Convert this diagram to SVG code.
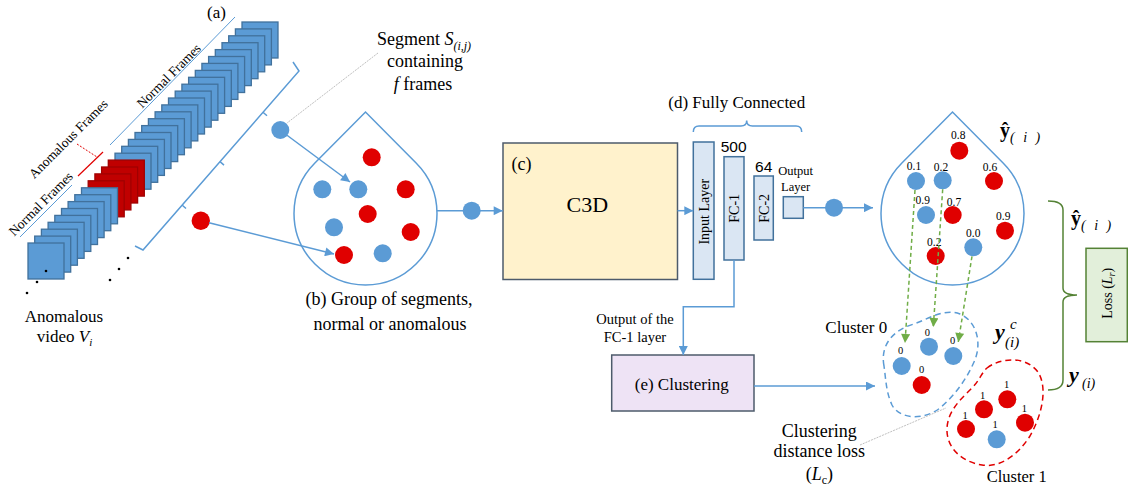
<svg xmlns="http://www.w3.org/2000/svg" width="1128" height="488" viewBox="0 0 1128 488">
<defs>
<style>
.t{font-family:"Liberation Serif","Times New Roman",serif;fill:#000}
.s{font-family:"Liberation Sans",Arial,sans-serif;fill:#000}
.fr{fill:#5B9BD5;stroke:#41719C;stroke-width:1.3}
.fa{fill:#C00000;stroke:#A00000;stroke-width:1.3}
.bc{fill:#5B9BD5}
.rc{fill:#E00000}
.ln{stroke:#5B9BD5;stroke-width:1.5;fill:none}
.gd{stroke:#70AD47;stroke-width:1.5;fill:none;stroke-dasharray:4 3}
.lay{fill:#DAE6F3;stroke:#41719C;stroke-width:1.5}
.dot{fill:#000}
</style>
<marker id="ab" viewBox="0 0 10 10" refX="10" refY="5" markerWidth="11" markerHeight="9" markerUnits="userSpaceOnUse" orient="auto"><path d="M0,0 L10,5 L0,10 z" fill="#5B9BD5"/></marker>
<marker id="ag" viewBox="0 0 10 10" refX="10" refY="5" markerWidth="10" markerHeight="9" markerUnits="userSpaceOnUse" orient="auto"><path d="M0,0 L10,5 L0,10 z" fill="#70AD47"/></marker>
</defs>
<rect width="1128" height="488" fill="#fff"/>

<g id="video-stack">
<rect class="fr" x="242.0" y="22.0" width="36" height="36"/>
<rect class="fr" x="235.4" y="28.9" width="36" height="36"/>
<rect class="fr" x="228.7" y="35.8" width="36" height="36"/>
<rect class="fr" x="222.0" y="42.7" width="36" height="36"/>
<rect class="fr" x="215.3" y="49.6" width="36" height="36"/>
<rect class="fr" x="208.6" y="56.5" width="36" height="36"/>
<rect class="fr" x="201.9" y="63.4" width="36" height="36"/>
<rect class="fr" x="195.3" y="70.4" width="36" height="36"/>
<rect class="fr" x="188.6" y="77.3" width="36" height="36"/>
<rect class="fr" x="181.9" y="84.2" width="36" height="36"/>
<rect class="fr" x="175.2" y="91.1" width="36" height="36"/>
<rect class="fr" x="168.5" y="98.0" width="36" height="36"/>
<rect class="fr" x="161.8" y="104.9" width="36" height="36"/>
<rect class="fr" x="155.1" y="111.8" width="36" height="36"/>
<rect class="fr" x="148.4" y="118.7" width="36" height="36"/>
<rect class="fr" x="141.7" y="125.6" width="36" height="36"/>
<rect class="fr" x="135.0" y="132.5" width="36" height="36"/>
<rect class="fr" x="128.4" y="139.4" width="36" height="36"/>
<rect class="fr" x="121.7" y="146.3" width="36" height="36"/>
<rect class="fr" x="115.0" y="153.2" width="36" height="36"/>
<rect class="fa" x="108.3" y="160.1" width="36" height="36"/>
<rect class="fa" x="101.6" y="167.0" width="36" height="36"/>
<rect class="fa" x="94.9" y="173.9" width="36" height="36"/>
<rect class="fa" x="88.2" y="180.8" width="36" height="36"/>
<rect class="fr" x="81.5" y="187.8" width="36" height="36"/>
<rect class="fr" x="74.8" y="194.7" width="36" height="36"/>
<rect class="fr" x="68.1" y="201.6" width="36" height="36"/>
<rect class="fr" x="61.5" y="208.5" width="36" height="36"/>
<rect class="fr" x="54.8" y="215.4" width="36" height="36"/>
<rect class="fr" x="48.1" y="222.3" width="36" height="36"/>
<rect class="fr" x="41.4" y="229.2" width="36" height="36"/>
<rect class="fr" x="34.7" y="236.1" width="36" height="36"/>
<rect class="fr" x="28.0" y="243.0" width="36" height="36"/>
<circle class="dot" cx="46" cy="271" r="1.3"/>
<circle class="dot" cx="37" cy="282" r="1.3"/>
<circle class="dot" cx="27" cy="293" r="1.3"/>
<circle class="dot" cx="128" cy="258" r="1.3"/>
<circle class="dot" cx="119" cy="269" r="1.3"/>
<circle class="dot" cx="110" cy="280" r="1.3"/>
<line x1="110" y1="145" x2="235" y2="17" stroke="#5B9BD5" stroke-width="1"/>
<line x1="20" y1="237" x2="72" y2="185" stroke="#5B9BD5" stroke-width="1"/>
<line x1="78" y1="176" x2="103" y2="152" stroke="#E00000" stroke-width="1.2"/>
<line x1="77" y1="144" x2="97" y2="157" stroke="#E00000" stroke-width="1" stroke-dasharray="2 1.5"/>
<text class="t" font-size="13.5" text-anchor="middle" transform="translate(172,79) rotate(-45)">Normal Frames</text>
<text class="t" font-size="13.5" text-anchor="middle" transform="translate(71.5,142) rotate(-45)">Anomalous Frames</text>
<text class="t" font-size="13.5" text-anchor="middle" transform="translate(44,207) rotate(-45)">Normal Frames</text>
<text class="t" font-size="17" x="207" y="18">(a)</text>
<text class="t" font-size="17" text-anchor="middle" x="64" y="322">Anomalous</text>
<text class="t" font-size="17" text-anchor="middle" x="64.5" y="342">video <tspan font-style="italic">V</tspan><tspan font-style="italic" font-size="11" dy="4">i</tspan></text>
</g>

<g id="segments">
<path class="ln" stroke-width="1.2" d="M135,246 L143,250 L299,71 L293,62"/>
<path class="ln" stroke-width="1.2" d="M182,205 l4,3.5 M220,161.6 l4,3.5 M263,112.3 l4,3.5"/>
<line x1="378" y1="53" x2="287" y2="123" stroke="#BFBFBF" stroke-width="1" stroke-dasharray="2 1"/>
<circle class="bc" cx="280.3" cy="130" r="9"/>
<circle class="rc" cx="200.8" cy="220.8" r="9.2"/>
<text class="t" font-size="18" text-anchor="middle" x="424" y="45">Segment <tspan font-style="italic">S</tspan><tspan font-style="italic" font-size="12" dy="5">(i,j)</tspan></text>
<text class="t" font-size="18" text-anchor="middle" x="425" y="67">containing</text>
<text class="t" font-size="18" text-anchor="middle" x="423" y="90"><tspan font-style="italic">f</tspan> frames</text>
</g>

<g id="bag-b">
<path class="ln" d="M314.9,163 L365.5,112 L416.1,163 A71.5,71.5 0 1 1 314.9,163 Z"/>
<circle class="rc" cx="371.7" cy="157.3" r="9"/>
<circle class="bc" cx="322.3" cy="189.3" r="9"/>
<circle class="bc" cx="358.3" cy="189.3" r="9"/>
<circle class="rc" cx="405.7" cy="189.3" r="9"/>
<circle class="rc" cx="367.7" cy="214" r="9"/>
<circle class="bc" cx="334" cy="227.3" r="9"/>
<circle class="rc" cx="410.7" cy="232" r="9"/>
<circle class="rc" cx="344" cy="255" r="9"/>
<circle class="bc" cx="382.7" cy="253.3" r="9"/>
<text class="t" font-size="18" text-anchor="middle" x="389" y="305">(b) Group of segments,</text>
<text class="t" font-size="18" text-anchor="middle" x="390" y="330">normal or anomalous</text>
</g>

<g id="c3d">
<rect x="503" y="143" width="174.5" height="136.5" fill="#FFF2CC" stroke="#4D5B6B" stroke-width="1.5"/>
<text class="t" font-size="18" x="511.5" y="170">(c)</text>
<text class="t" font-size="22" text-anchor="middle" x="587.3" y="212.3">C3D</text>
</g>

<g id="fully-connected">
<text class="t" font-size="17" text-anchor="middle" x="736.7" y="108.3">(d) Fully Connected</text>
<path class="ln" stroke-width="1.2" d="M693.3,132 Q693.3,126 699,126 L741,126 Q746.7,126 746.7,120.5 Q746.7,126 752.4,126 L796,126 Q801.7,126 801.7,132"/>
<rect class="lay" x="693.3" y="142" width="20.7" height="137.3"/>
<text class="t" font-size="14" text-anchor="middle" transform="translate(709,211.7) rotate(-90)">Input Layer</text>
<rect class="lay" x="724" y="156.7" width="20" height="103.3"/>
<text class="t" font-size="14" text-anchor="middle" transform="translate(739,208.3) rotate(-90)">FC-1</text>
<text class="s" font-size="15.5" text-anchor="middle" x="733.7" y="151.7">500</text>
<rect class="lay" x="754" y="176" width="19.3" height="64"/>
<text class="t" font-size="14" text-anchor="middle" transform="translate(768.5,208.3) rotate(-90)">FC-2</text>
<text class="s" font-size="15.5" text-anchor="middle" x="763.7" y="172.3">64</text>
<rect class="lay" x="783.3" y="196.7" width="20" height="21.6"/>
<text class="t" font-size="12.5" text-anchor="middle" x="795.7" y="175">Output</text>
<text class="t" font-size="12.5" text-anchor="middle" x="795.7" y="190.7">Layer</text>
</g>

<g id="bag-out">
<path class="ln" d="M901.9,163 L952.5,112 L1003.1,163 A71.5,71.5 0 1 1 901.9,163 Z"/>
<circle class="rc" cx="959.3" cy="150.7" r="9"/>
<circle class="bc" cx="916" cy="181" r="9"/>
<circle class="bc" cx="942.7" cy="180.3" r="9"/>
<circle class="rc" cx="994" cy="181" r="9"/>
<circle class="bc" cx="926" cy="215" r="9"/>
<circle class="rc" cx="952.7" cy="215" r="9"/>
<circle class="rc" cx="1005" cy="230.7" r="9"/>
<circle class="rc" cx="935.7" cy="256" r="9"/>
<circle class="bc" cx="973.3" cy="247.3" r="9"/>
<g class="t" font-size="11.5" text-anchor="middle">
<text x="958.3" y="139">0.8</text>
<text x="914" y="169.7">0.1</text>
<text x="941" y="170.7">0.2</text>
<text x="990" y="170.7">0.6</text>
<text x="922.7" y="204">0.9</text>
<text x="954" y="205.7">0.7</text>
<text x="1003.3" y="220">0.9</text>
<text x="934.3" y="245.7">0.2</text>
<text x="973.3" y="237.3">0.0</text>
</g>
<text class="t" font-size="20" font-weight="bold" x="1000" y="137">ŷ<tspan font-size="14" font-style="italic" font-weight="normal" dy="5" letter-spacing="2.5">( i )</tspan></text>
</g>

<g id="clustering">
<rect x="611.7" y="355" width="142.3" height="56" fill="#EEE3F5" stroke="#4D5B6B" stroke-width="1.5"/>
<text class="t" font-size="17" text-anchor="middle" x="681.7" y="390">(e) Clustering</text>
<text class="t" font-size="14.5" text-anchor="middle" x="635" y="324">Output of the</text>
<text class="t" font-size="14.5" text-anchor="middle" x="635" y="341.7">FC-1 layer</text>
</g>

<g id="cluster-0">
<path d="M884,366 C880,345 893,330 914,324 C930,318 945,308 960,314 C978,322 982,345 974,362 C966,380 955,395 940,408 C925,420 900,420 892,405 C886,392 886,380 884,366 Z" fill="none" stroke="#5B9BD5" stroke-width="1.5" stroke-dasharray="6 4"/>
<circle class="bc" cx="901.7" cy="366" r="9"/>
<circle class="bc" cx="929" cy="346.7" r="9"/>
<circle class="bc" cx="953.3" cy="356" r="9"/>
<circle class="rc" cx="921.7" cy="385" r="9"/>
<g class="t" font-size="10.5" text-anchor="middle">
<text x="900.7" y="354">0</text>
<text x="927.3" y="336">0</text>
<text x="952.7" y="344">0</text>
<text x="921.7" y="372.5">0</text>
</g>
<text class="t" font-size="17" text-anchor="middle" x="856.3" y="332.7">Cluster 0</text>
<text class="t" font-size="22" font-weight="bold" font-style="italic" x="995" y="339">y</text>
<text class="t" font-size="15" font-style="italic" x="1010" y="329">c</text>
<text class="t" font-size="15" font-style="italic" x="1005" y="347">(i)</text>
</g>

<g id="cluster-1">
<path d="M987,368 C1000,358 1025,355 1038,372 C1048,388 1042,415 1030,436 C1018,455 1000,468 982,465 C962,462 946,448 947,428 C948,410 962,398 972,388 C980,380 982,372 987,368 Z" fill="none" stroke="#E00000" stroke-width="1.5" stroke-dasharray="6 4"/>
<circle class="rc" cx="984" cy="409.3" r="9"/>
<circle class="rc" cx="1007.3" cy="399.3" r="9"/>
<circle class="rc" cx="966" cy="429" r="9"/>
<circle class="rc" cx="1025" cy="422.7" r="9"/>
<circle class="bc" cx="996.7" cy="439.3" r="9"/>
<g class="t" font-size="10.5" text-anchor="middle">
<text x="982.7" y="398.5">1</text>
<text x="1006.7" y="387.8">1</text>
<text x="965" y="418.5">1</text>
<text x="1024.3" y="411.8">1</text>
<text x="995" y="427.8">1</text>
</g>
<text class="t" font-size="16.5" text-anchor="middle" x="1016.7" y="481.7">Cluster 1</text>
</g>

<g id="distance-loss">
<line x1="860" y1="445" x2="946" y2="408" stroke="#BFBFBF" stroke-width="1" stroke-dasharray="2 1"/>
<text class="t" font-size="18" text-anchor="middle" x="819.3" y="436.7">Clustering</text>
<text class="t" font-size="18" text-anchor="middle" x="819.3" y="457.3">distance loss</text>
<text class="t" font-size="18" text-anchor="middle" x="819.3" y="480">(<tspan font-style="italic">L</tspan><tspan font-size="12" dy="4">c</tspan><tspan dy="-4">)</tspan></text>
</g>

<g id="loss">
<path d="M1048,201 Q1063,201 1063,210 L1063,288 Q1063,295 1077,295 Q1063,295 1063,302 L1063,380 Q1063,390 1048,390" fill="none" stroke="#548235" stroke-width="1.5"/>
<rect x="1086" y="248.3" width="41.3" height="93.4" fill="#E2EFDA" stroke="#548235" stroke-width="1.5"/>
<text class="t" font-size="14" text-anchor="middle" transform="translate(1111.5,293.3) rotate(-90)">Loss (<tspan font-style="italic">L</tspan><tspan font-style="italic" font-size="10" dy="3">r</tspan><tspan dy="-3">)</tspan></text>
<text class="t" font-size="20" font-weight="bold" x="1071" y="225">ŷ<tspan font-size="14" font-style="italic" font-weight="normal" dy="5" letter-spacing="2.5">( i )</tspan></text>
<text class="t" font-size="22" font-weight="bold" font-style="italic" x="1069" y="382">y</text>
<text class="t" font-size="14" font-style="italic" x="1082" y="388">(i)</text>
</g>

<g id="connectors">
<line class="ln" x1="286" y1="134.5" x2="350" y2="182" marker-end="url(#ab)"/>
<line class="ln" x1="209" y1="222.8" x2="334" y2="254" marker-end="url(#ab)"/>
<line class="ln" x1="437" y1="210.7" x2="502.7" y2="210.7" marker-end="url(#ab)"/>
<circle class="bc" cx="471.7" cy="210.7" r="9"/>
<line class="ln" x1="677.5" y1="210.7" x2="693.3" y2="210.7" marker-end="url(#ab)"/>
<line class="ln" x1="803.3" y1="207.7" x2="873" y2="207.7" marker-end="url(#ab)"/>
<circle class="bc" cx="834" cy="207.7" r="9"/>
<path class="ln" d="M734,260 V306.7 H683.3 V355" marker-end="url(#ab)"/>
<line class="ln" x1="754" y1="386" x2="875" y2="386" marker-end="url(#ab)"/>
<line class="gd" x1="915" y1="190" x2="905" y2="343" marker-end="url(#ag)"/>
<line class="gd" x1="942.7" y1="189.3" x2="933.3" y2="327" marker-end="url(#ag)"/>
<line class="gd" x1="972" y1="256.3" x2="958.3" y2="342" marker-end="url(#ag)"/>
</g>
</svg>
